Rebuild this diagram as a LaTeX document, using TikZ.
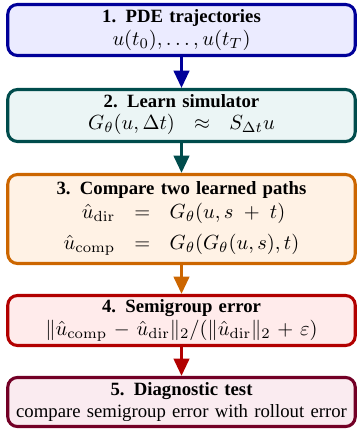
\documentclass[tikz,border=0pt]{standalone}
\usepackage{fix-cm}
\usepackage[no-math]{fontspec}
\setmainfont{Liberation Serif}
\usetikzlibrary{arrows.meta}

% text is set a little smaller than the formulas
\DeclareMathSizes{9.7}{10.6}{7.6}{5.8}

% stage colours: border and fill
\colorlet{cOne}{blue!60!black}    \colorlet{fOne}{blue!8}
\colorlet{cTwo}{teal!60!black}    \colorlet{fTwo}{teal!8}
\colorlet{cThree}{orange!80!black}\colorlet{fThree}{orange!10}
\colorlet{cFour}{red!70!black}    \colorlet{fFour}{red!8}
\colorlet{cFive}{purple!60!black} \colorlet{fFive}{purple!8}

\tikzset{
  stagebox/.style={draw=#1, line width=1.6pt, rounded corners=5pt,
    text width=180pt, inner xsep=0pt, inner ysep=2pt, align=center,
    font=\fontsize{9.7pt}{11.8pt}\selectfont},
  flow/.style={draw=#1, line width=1.6pt,
    -{Triangle[width=8pt,length=9pt]}},
}

\begin{document}
\begin{tikzpicture}[x=0.518pt, y=-0.518pt]
\useasboundingbox (0,0) rectangle (358,429);

\node[stagebox=cOne, fill=fOne, minimum height=26.4pt] (s1) at (181.5,30)
  {\textbf{1. PDE trajectories}\\ $u(t_0),\dots,u(t_T)$};

\node[stagebox=cTwo, fill=fTwo, minimum height=26.9pt] (s2) at (181.5,115.5)
  {\textbf{2. Learn simulator}\\
   $\begin{array}{rcl} G_\theta(u,\Delta t) & \approx & S_{\Delta t}u \end{array}$};

\node[stagebox=cThree, fill=fThree, minimum height=46.1pt] (s3) at (181.5,219)
  {\textbf{3. Compare two learned paths}\\[1pt]
   $\begin{array}{rcl}
     \hat u_{\mathrm{dir}} & = & G_\theta(u, s\;+\;t)\\[4pt]
     \hat u_{\mathrm{comp}} & = & G_\theta(G_\theta(u,s),t)
   \end{array}$};

\node[stagebox=cFour, fill=fFour, minimum height=25.9pt] (s4) at (181.5,320.5)
  {\textbf{4. Semigroup error}\\
   $\|\hat u_{\mathrm{comp}}-\hat u_{\mathrm{dir}}\|_2/(\|\hat u_{\mathrm{dir}}\|_2+\varepsilon)$};

\node[stagebox=cFive, fill=fFive, minimum height=25.4pt] (s5) at (181.5,402)
  {\textbf{5. Diagnostic test}\\ compare semigroup error with rollout error};

\draw[flow=cOne]   (s1.south) -- (s2.north);
\draw[flow=cTwo]   (s2.south) -- (s3.north);
\draw[flow=cThree] (s3.south) -- (s4.north);
\draw[flow=cFour]  (s4.south) -- (s5.north);
\end{tikzpicture}
\end{document}
